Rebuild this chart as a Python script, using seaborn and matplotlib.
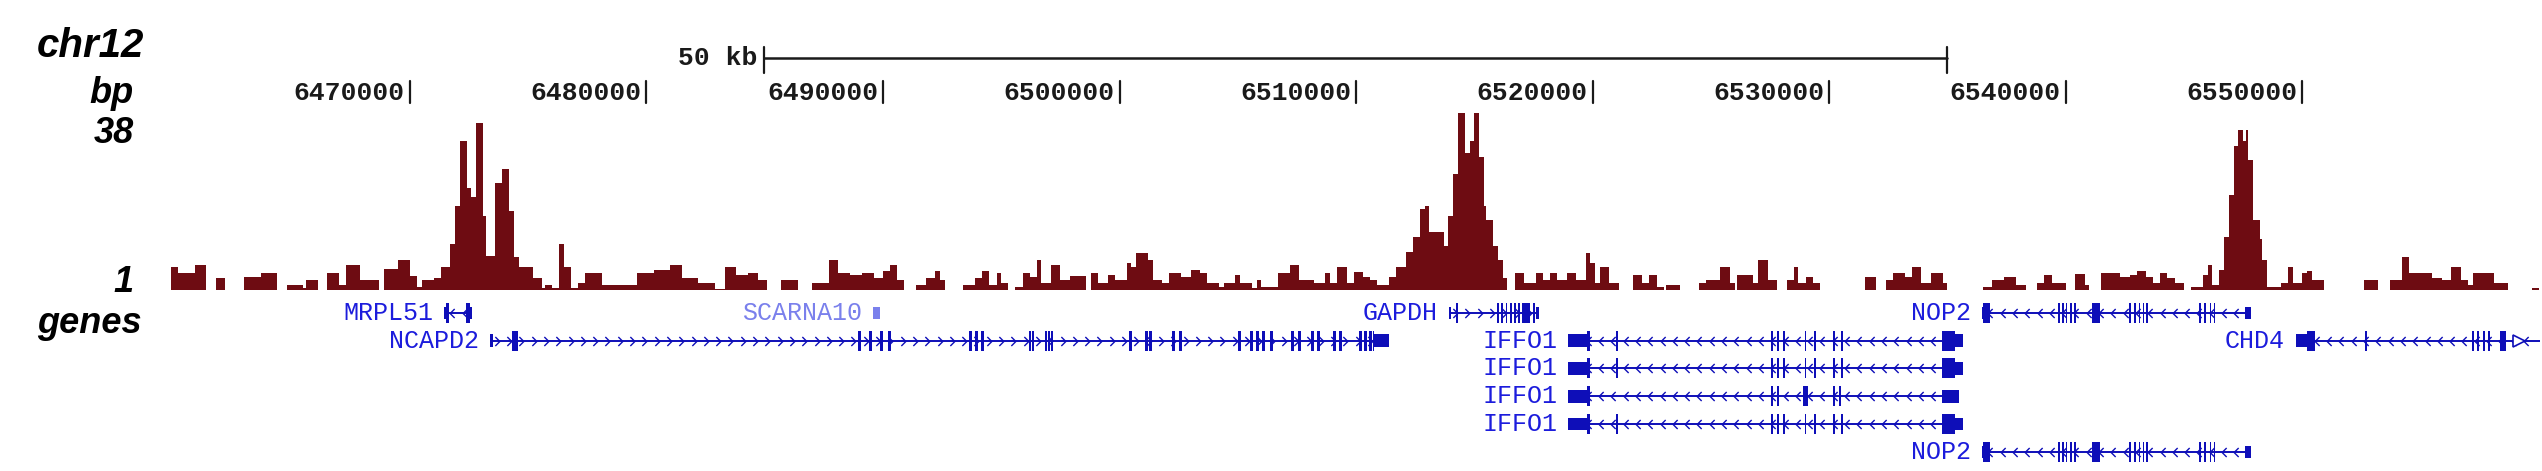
"""
UCSC-style browser view of chr12:6,459,900-6,560,050 with a ChIP signal
track (bedGraph segments) and the RefSeq gene models underneath.
"""

import numpy as np
import pandas as pd
import matplotlib.pyplot as plt
import matplotlib.transforms as mtransforms
from matplotlib.path import Path
from matplotlib.patches import Rectangle
import seaborn as sns

# ── Window / ruler ──────────────────────────────────────────────────
CHROM = "chr12"
VIEW_START = 6459900
VIEW_END = 6560050
SCALE_BAR_BP = 50000
SCALE_BAR_LABEL = "50 kb"
RULER_TICKS = [6470000, 6480000, 6490000, 6500000, 6510000,
               6520000, 6530000, 6540000, 6550000]
RULER_LABELS = ["6470000", "6480000", "6490000", "6500000", "6510000",
                "6520000", "6530000", "6540000", "6550000"]

# ── Signal track (bedGraph: segment starts in kb from origin) ───────
TRACK_MIN_LABEL = "1"
TRACK_MAX_LABEL = "38"
TRACK_MAX = 38
SIG_ORIGIN = 6460000
SIG_STARTS_KB = [
    -0.1, 0.2, 0.9, 1.4, 1.8, 2.2, 3.0, 3.7, 4.4, 4.8, 5.5, 5.6, 6.1, 6.5,
    7.0, 7.3, 7.9, 8.7, 8.9, 9.5, 10.0, 10.3, 10.5, 11.0, 11.3, 11.7, 11.9,
    12.1, 12.4, 12.6, 12.8, 13.1, 13.2, 13.6, 13.9, 14.2, 14.4, 14.6, 15.2,
    15.6, 15.7, 16.0, 16.3, 16.5, 16.8, 17.1, 17.4, 18.1, 19.6, 20.3, 21.0,
    21.5, 22.2, 22.9, 23.3, 23.8, 24.3, 24.7, 25.1, 25.7, 26.4, 27.0, 27.7,
    28.1,
    28.6, 29.1, 29.6, 30.0, 30.3, 30.6, 30.9, 31.4, 31.8, 32.2, 32.4, 32.6,
    33.4, 33.9, 34.2, 34.5, 34.8, 35.0, 35.3, 35.6, 35.9, 36.2, 36.5, 36.7,
    37.1, 37.5, 37.9, 38.6, 38.8, 39.1, 39.5, 39.8, 40.3, 40.5, 40.7, 41.2,
    41.4, 41.8, 42.1, 42.6, 43.0, 43.4, 43.7, 44.2, 44.4, 44.9, 45.1, 45.6,
    45.8, 46.0, 46.7, 47.2, 47.6, 48.2, 48.7, 48.9, 49.2, 49.6, 49.9, 50.3,
    50.6, 50.9, 51.4, 51.7, 52.1, 52.4, 52.7, 52.9, 53.1, 53.7, 53.9, 54.1,
    54.3, 54.6, 54.8, 55.0, 55.2, 55.4, 55.5, 55.8, 56.0, 56.2, 56.4, 56.7,
    57.1, 57.6, 57.9, 58.2, 58.5, 58.9, 59.3, 59.7, 59.9, 60.1, 60.3, 60.7,
    61.1, 61.7, 62.1, 62.4, 62.7, 63.0, 63.1, 63.7,
    64.5, 64.8, 65.4, 65.8, 66.0, 66.1, 66.8, 67.0, 67.4, 67.8, 68.2, 68.5,
    68.7, 69.0, 69.3, 69.6, 71.5, 72.0, 72.4, 72.7, 73.2, 73.5, 73.9, 74.3,
    74.8, 75.0, 76.5, 76.9, 77.4, 77.9, 78.3, 78.8, 79.1, 79.4, 80.0, 80.4,
    80.8, 81.0, 81.5, 82.3, 82.7, 83.0, 83.4, 83.7, 84.0, 84.3, 84.6, 85.0,
    85.3, 85.8, 86.0, 86.2, 86.5, 86.7, 86.9, 87.1, 87.3, 87.5, 87.6, 87.7,
    87.9, 88.2, 88.3, 88.5, 89.1, 89.4, 89.6, 90.0, 90.2, 90.4, 90.9, 92.6,
    93.2, 93.7, 94.2, 94.5, 95.5, 95.9, 96.3, 96.7, 97.0, 97.2, 98.1, 98.7,
    99.7,
]
SIG_END_KB = 100.0
SIG_VALUES = [
    5.0, 3.6, 5.4, 0, 2.5, 0, 2.9, 3.6, 0, 1.1, 0.5, 2.2, 0, 3.6,
    1.1, 5.4, 2.2, 0, 4.5, 6.5, 3.0, 0.7, 2.2, 2.5, 5.0, 10, 18,
    32, 22, 20, 36, 16, 7.3, 23, 26, 17, 7.0, 5.0, 2.5,
    0.5, 1.1, 0.5, 10, 5.0, 0.5, 1.5, 3.6, 1.1, 3.6, 4.3, 5.4,
    2.5, 1.5, 0.3, 5.0, 3.2, 3.6, 2.2, 0, 2.2, 0, 1.5, 6.5,
    3.6,
    3.2, 3.6, 2.5, 4.0, 5.4, 2.2, 0, 1.1, 2.5, 4.0, 2.2, 0,
    1.1, 2.5, 4.0, 1.1, 3.6, 1.5, 0, 0.7, 3.6, 2.9, 6.5, 1.5,
    5.4, 2.2, 3.0, 0, 3.6, 1.5, 3.2, 2.2, 5.7, 5.0, 8.0, 6.5,
    2.2, 1.5, 3.6, 2.9, 4.3, 3.6, 1.5, 0.7, 1.5, 3.2, 1.5, 0.4,
    2.2, 0.7, 3.6, 5.4, 2.2, 1.5, 3.6, 1.5, 5.0, 1.5, 3.9, 2.9,
    2.2, 1.1, 2.9, 5.0, 8.2, 11.5, 17.5, 18, 12.5, 9.5, 16, 25,
    38, 29.5, 32, 38, 28.5, 18, 15, 9.5, 6.5, 2.5, 0, 3.6,
    1.5, 3.6, 2.2, 3.6, 2.2, 3.6, 2.2, 8.0, 5.7, 1.5, 5.0, 1.5,
    0, 3.2, 1.5, 3.2, 0.7, 0, 1.1, 0,
    1.5, 2.2, 5.0, 1.5, 0, 3.2, 1.5, 6.5, 2.2, 0, 2.2, 5.0,
    1.5, 2.9, 1.5, 0, 2.9, 0, 2.2, 3.6, 2.9, 5.0, 1.5, 3.6,
    1.5, 0, 0.7, 2.2, 2.9, 1.1, 0, 1.5, 3.2, 1.5, 0, 3.5,
    1.1, 0, 3.6, 2.9, 3.2, 4.0, 2.9, 1.5, 3.6, 2.5, 1.5, 0,
    0.7, 3.2, 5.4, 1.1, 4.3, 11.5, 20.5, 31, 34.5, 32, 34.5, 28,
    15, 11, 6.5, 0.7, 1.5, 5.0, 1.5, 3.6, 4.0, 2.2, 0, 2.2,
    0, 2.2, 7.2, 3.6, 2.5, 2.2, 5.0, 2.2, 1.1, 3.6, 1.5, 0,
    0.4,
]

# ── Gene models ─────────────────────────────────────────────────────
MRPL51_EXONS = [(6471440, 6471640), (6472380, 6472620)]
SCARNA10_EXONS = [(6489570, 6489870)]
GAPDH_EXONS = [(6513920, 6514010), (6514230, 6514300), (6515960, 6516040),
               (6516140, 6516220), (6516320, 6516400), (6516500, 6516580),
               (6516680, 6516760), (6516860, 6516940), (6517030, 6517360),
               (6517480, 6517560), (6517620, 6517740)]
NOP2_EXONS = [(6536460, 6536800), (6539680, 6539750), (6539840, 6539910),
              (6540000, 6540070), (6540180, 6540250), (6540360, 6540430),
              (6541110, 6541450), (6542680, 6542750), (6542900, 6542970),
              (6543080, 6543150), (6543260, 6543330), (6543400, 6543470),
              (6545630, 6545700), (6545850, 6545920), (6546080, 6546150),
              (6546260, 6546330), (6547580, 6547820)]
NCAPD2_EXONS = [(6473400, 6473520), (6474330, 6474560), (6488940, 6489060),
                (6489400, 6489520), (6489870, 6489990), (6490210, 6490330),
                (6493630, 6493750), (6493890, 6494010), (6494140, 6494260),
                (6496170, 6496270), (6496300, 6496400), (6496850, 6496940),
                (6496970, 6497060), (6497100, 6497200), (6500400, 6500520),
                (6501080, 6501190), (6501250, 6501370), (6502220, 6502340),
                (6502510, 6502630), (6505010, 6505130), (6505510, 6505630),
                (6505770, 6505890), (6506020, 6506140), (6506360, 6506480),
                (6507250, 6507370), (6507540, 6507660), (6508090, 6508210),
                (6508350, 6508470), (6509020, 6509140), (6509280, 6509400),
                (6510120, 6510230), (6510340, 6510450), (6510550, 6510660),
                (6510720, 6511390)]
IFFO1_EXONS = [(6518960, 6519890), (6520980, 6521080), (6527560, 6527640),
               (6527800, 6527880), (6528050, 6528130), (6528960, 6529040),
               (6529360, 6529440), (6530180, 6530260), (6530500, 6530580),
               (6534770, 6535660)]
IFFO1_ALT_EXONS = [(6518960, 6519890), (6527560, 6527640), (6527800, 6527880),
                   (6528900, 6529100), (6530180, 6530260), (6530400, 6530480),
                   (6534770, 6535500)]
CHD4_EXONS = [(6549740, 6550540), (6552650, 6552750), (6557190, 6557260),
              (6557400, 6557470), (6557650, 6557720), (6557860, 6557930),
              (6558360, 6558620)]

GENE_NAMES = ["MRPL51", "SCARNA10", "GAPDH", "NOP2", "NCAPD2", "IFFO1",
              "CHD4", "IFFO1", "IFFO1", "IFFO1", "NOP2"]
GENE_ROWS = [0, 0, 0, 0, 1, 1, 1, 2, 3, 4, 5]
GENE_STRANDS = ["-", "+", "+", "-", "+", "-", "-", "-", "-", "-", "-"]
GENE_TX_START = [6471440, 6489570, 6513920, 6536460, 6473400, 6518960,
                 6549740, 6518960, 6518960, 6518960, 6536460]
GENE_TX_END = [6472620, 6489870, 6517740, 6547820, 6511390, 6535660,
               6561000, 6535660, 6535500, 6535660, 6547820]
GENE_CDS = [(6471540, 6472520), (6489870, 6489870), (6514230, 6517600),
            (6536500, 6547560), (6474300, 6510760), (6519750, 6535300),
            (6550200, 6561000), (6519750, 6535300), (6519750, 6534700),
            (6519750, 6535300), (6536500, 6547560)]
GENE_EXONS = [MRPL51_EXONS, SCARNA10_EXONS, GAPDH_EXONS, NOP2_EXONS,
              NCAPD2_EXONS, IFFO1_EXONS, CHD4_EXONS, IFFO1_EXONS,
              IFFO1_ALT_EXONS, IFFO1_EXONS, NOP2_EXONS]
GENE_FADED = [False, True, False, False, False, False, False, False, False,
              False, False]

# ── Styling ─────────────────────────────────────────────────────────
W, H = 2542, 471
SIGNAL_COLOR = "#6e0c12"
GENE_COLOR = "#0e0eb8"
LABEL_COLOR = "#1c1cdc"
FADED_COLOR = "#7a80ec"
TEXT_COLOR = "#1a1a1a"
CHEVRON_STEP = 520
CDS_H, UTR_H = 0.72, 0.45

sns.set_style("white")
plt.rcParams["font.family"] = ["Liberation Sans", "DejaVu Sans"]

MONO = "Liberation Mono"

CHEV_FWD = Path([(-0.35, 0.5), (0.15, 0.0), (-0.35, -0.5)],
                [Path.MOVETO, Path.LINETO, Path.LINETO])
CHEV_REV = Path([(0.35, 0.5), (-0.15, 0.0), (0.35, -0.5)],
                [Path.MOVETO, Path.LINETO, Path.LINETO])


def draw_gene(ax, row, start, end, exons, cds, strand, name, color, tcolor):
    """UCSC style gene glyph: intron line with chevrons, UTR/CDS blocks."""
    x1 = min(end, VIEW_END)
    ax.plot([start, x1], [row, row], color=color, lw=1.4,
            solid_capstyle="butt", zorder=2)
    marks = np.arange(start + CHEVRON_STEP * 0.6, x1 - 150, CHEVRON_STEP)
    ax.plot(marks, np.full(len(marks), row), ls="none",
            marker=CHEV_FWD if strand == "+" else CHEV_REV,
            ms=6.5, mew=1.0, mec=color, mfc="none", zorder=2)
    for s, e in exons:
        ax.add_patch(Rectangle((s, row - UTR_H / 2), e - s, UTR_H,
                               facecolor=color, lw=0, zorder=3))
        cs, ce = max(s, cds[0]), min(e, cds[1])
        if ce > cs:
            ax.add_patch(Rectangle((cs, row - CDS_H / 2), ce - cs, CDS_H,
                                   facecolor=color, lw=0, zorder=3))
    if end > VIEW_END:
        # gene continues past the window edge
        ax.plot([VIEW_END - 900], [row], marker=">", ms=9, mew=1.2,
                mec=color, mfc="white", zorder=4)
    ax.annotate(name, xy=(start, row), xytext=(-11, 0),
                textcoords="offset pixels", ha="right", va="center",
                fontsize=18, family=MONO, color=tcolor)


if __name__ == "__main__":
    # ── Data ─────────────────────────────────────────────────────────
    assert len(SIG_STARTS_KB) == len(SIG_VALUES)
    edges = SIG_ORIGIN + 1000 * np.array(SIG_STARTS_KB + [SIG_END_KB])
    sig = pd.DataFrame({
        "mid": (edges[:-1] + edges[1:]) / 2,
        "value": SIG_VALUES,
    })

    # ── Layout ───────────────────────────────────────────────────────
    fig = plt.figure(figsize=(W / 100, H / 100), dpi=100)
    ax_ann = fig.add_axes([0, 0, 1, 1])
    left, width = 171 / W, 2369 / W
    ax_sig = fig.add_axes([left, 1 - 290 / H, width, 176.7 / H])
    ax_gene = fig.add_axes([left, 0, width, 172 / H])
    for ax in (ax_ann, ax_sig, ax_gene):
        ax.patch.set_visible(False)

    # ── Signal ───────────────────────────────────────────────────────
    sns.histplot(data=sig, x="mid", weights="value", bins=edges.tolist(),
                 stat="count", element="step", fill=True,
                 color=SIGNAL_COLOR, alpha=1, linewidth=0, ax=ax_sig)
    ax_sig.set_xlim(VIEW_START, VIEW_END)
    ax_sig.set_ylim(0, TRACK_MAX)
    ax_sig.set_axis_off()

    # ── Genes ────────────────────────────────────────────────────────
    for i, name in enumerate(GENE_NAMES):
        faded = GENE_FADED[i]
        draw_gene(ax_gene, GENE_ROWS[i], GENE_TX_START[i], GENE_TX_END[i],
                  GENE_EXONS[i], GENE_CDS[i], GENE_STRANDS[i], name,
                  FADED_COLOR if faded else GENE_COLOR,
                  FADED_COLOR if faded else LABEL_COLOR)
    ax_gene.set_xlim(VIEW_START, VIEW_END)
    ax_gene.set_ylim(5.69, -0.5)
    ax_gene.set_axis_off()

    # ── Ruler + scale bar (x in bp, y in figure pixels) ─────────────
    ruler = mtransforms.blended_transform_factory(ax_sig.transData,
                                                  ax_ann.transData)
    for t, lab in zip(RULER_TICKS, RULER_LABELS):
        ax_ann.plot([t, t], [81, 103], color=TEXT_COLOR, lw=1.6,
                    transform=ruler)
        ax_ann.annotate(lab, xy=(t, 100), xycoords=ruler, xytext=(-5, 0),
                        textcoords="offset pixels", ha="right",
                        va="baseline", fontsize=19, family=MONO,
                        fontweight="bold", color=TEXT_COLOR)
    mid = (VIEW_START + VIEW_END) / 2
    b0, b1 = mid - SCALE_BAR_BP / 2, mid + SCALE_BAR_BP / 2
    ax_ann.plot([b0, b1], [58, 58], color=TEXT_COLOR, lw=1.8,
                transform=ruler)
    for b in (b0, b1):
        ax_ann.plot([b, b], [47, 73], color=TEXT_COLOR, lw=1.6,
                    transform=ruler)
    ax_ann.annotate(SCALE_BAR_LABEL, xy=(b0, 58), xycoords=ruler,
                    xytext=(-7, 0), textcoords="offset pixels", ha="right",
                    va="center", fontsize=19, family=MONO,
                    fontweight="bold", color=TEXT_COLOR)

    # ── Track labels ─────────────────────────────────────────────────
    side = dict(ha="right", va="baseline", fontweight="bold",
                fontstyle="italic", color="black")
    ax_ann.text(144, 57, CHROM, fontsize=29, **side)
    ax_ann.text(134, 103, "bp", fontsize=26, **side)
    ax_ann.text(134, 143, TRACK_MAX_LABEL, fontsize=26, **side)
    ax_ann.text(134, 292, TRACK_MIN_LABEL, fontsize=26, **side)
    ax_ann.text(142, 333, "genes", fontsize=26, **side)
    ax_ann.set_xlim(0, W)
    ax_ann.set_ylim(H, 0)
    ax_ann.set_axis_off()

    fig.savefig("out.png", dpi=100)
